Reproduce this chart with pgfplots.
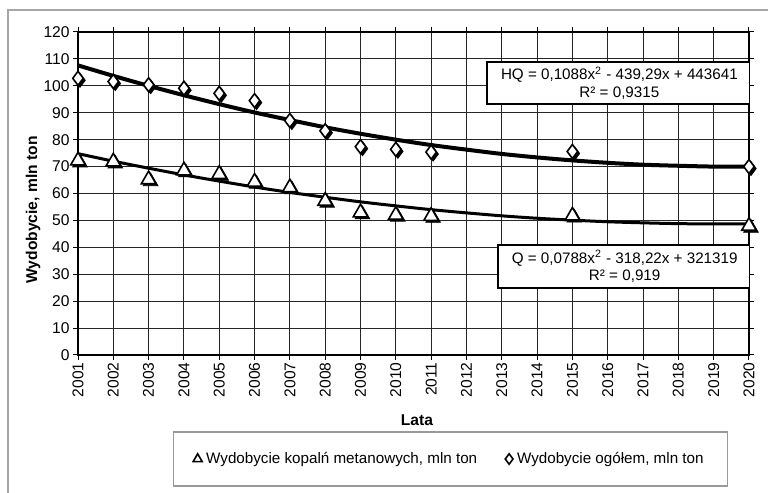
\documentclass[border=0pt]{standalone}
\usepackage{fontspec}
\setmainfont{Liberation Sans}
\usepackage{pgfplots}
\pgfplotsset{compat=1.18}
\begin{document}
\begin{tikzpicture}
\useasboundingbox (0,0) rectangle (384pt,246.5pt);
\draw[gray!70, line width=0.7pt] (4pt,0) -- (4pt,241.5pt) -- (384pt,241.5pt);
\begin{axis}[
  at={(39pt,69pt)}, anchor=south west,
  scale only axis, width=335.5pt, height=161.5pt,
  xmin=0, xmax=19, ymin=0, ymax=120,
  xtick={0,...,19},
  xticklabels={2001,2002,2003,2004,2005,2006,2007,2008,2009,2010,2011,2012,2013,2014,2015,2016,2017,2018,2019,2020},
  ytick={0,10,...,120},
  /pgf/number format/assume math mode=true,
  tick label style={font=\fontsize{7.8}{9}\selectfont},
  x tick label style={rotate=90, anchor=east, inner sep=1pt},
  y tick label style={inner sep=1.5pt},
  tick align=outside, major tick length=2.5pt,
  tick style={black, line width=0.5pt},
  grid=major, major grid style={black!85, line width=0.5pt},
  axis line style={black, line width=0.6pt},
  legend columns=2,
  legend style={at={(0.555,-0.322)}, anchor=center, draw=gray!80, line width=0.6pt,
    font=\fontsize{7.6}{9}\selectfont, inner xsep=10pt, inner ysep=8pt,
    /tikz/every even column/.append style={column sep=12pt}},
  legend cell align=left,
]
% shadows
\addplot[only marks, mark=diamond*, mark size=3.5pt, mark options={fill=black, draw=black, xshift=1pt, yshift=-1pt}, forget plot]
  coordinates {(0,102.8)(1,101.6)(2,100.4)(3,99.1)(4,97.2)(5,94.5)(6,87.1)(7,83.3)(8,77.4)(9,76.4)(10,75.4)(14,75.6)(19,70.0)};
\addplot[only marks, mark=triangle*, mark size=4.2pt, mark options={fill=black, draw=black, xshift=1pt, yshift=-1pt}, forget plot]
  coordinates {(0,72.2)(1,71.8)(2,65.2)(3,68.5)(4,67.2)(5,64.3)(6,62.2)(7,57.2)(8,52.9)(9,52.0)(10,51.6)(14,51.7)(19,47.9)};
% trend lines
\addplot[black, line width=2pt, smooth, forget plot] coordinates {
(0,107.6)(1,103.7)(2,100.0)(3,96.5)(4,93.2)(5,90.1)(6,87.3)(7,84.6)(8,82.2)(9,80.0)
(10,78.0)(11,76.3)(12,74.7)(13,73.4)(14,72.3)(15,71.4)(16,70.7)(17,70.3)(18,70.0)(19,70.0)};
\addplot[black, line width=1.5pt, smooth, forget plot] coordinates {
(0,74.8)(1,72.0)(2,69.4)(3,66.9)(4,64.6)(5,62.4)(6,60.4)(7,58.6)(8,56.9)(9,55.4)
(10,54.0)(11,52.8)(12,51.7)(13,50.8)(14,50.1)(15,49.5)(16,49.1)(17,48.8)(18,48.7)(19,48.75)};
% markers
\addplot[only marks, mark=triangle*, mark size=4.2pt, mark options={fill=white, draw=black, line width=0.8pt},
  legend image code/.code={\draw[gray, line width=0.4pt] plot[mark=triangle, mark size=2.6pt] coordinates {(0pt,0pt)};}]
  coordinates {(0,72.2)(1,71.8)(2,65.2)(3,68.5)(4,67.2)(5,64.3)(6,62.2)(7,57.2)(8,52.9)(9,52.0)(10,51.6)(14,51.7)(19,47.9)};
\addlegendentry{Wydobycie kopalń metanowych, mln ton}
\addplot[only marks, mark=diamond*, mark size=3.5pt, mark options={fill=white, draw=black, line width=0.8pt},
  legend image code/.code={\draw[gray, line width=0.4pt] plot[mark=diamond, mark size=2.6pt] coordinates {(0pt,0pt)};}]
  coordinates {(0,102.8)(1,101.6)(2,100.4)(3,99.1)(4,97.2)(5,94.5)(6,87.1)(7,83.3)(8,77.4)(9,76.4)(10,75.4)(14,75.6)(19,70.0)};
\addlegendentry{Wydobycie ogółem, mln ton}
\node[draw=black, line width=1.1pt, fill=white, align=center, font=\fontsize{7.6}{8.6}\selectfont,
  minimum width=132pt, minimum height=21pt, inner sep=1pt] at (axis cs:15.33,101.1)
  {HQ = 0,1088x\textsuperscript{2} - 439,29x + 443641\\R² = 0,9315};
\node[draw=black, line width=1.1pt, fill=white, align=center, font=\fontsize{7.6}{8.6}\selectfont,
  minimum width=126.5pt, minimum height=21.5pt, inner sep=1pt] at (axis cs:15.48,32.9)
  {Q = 0,0788x\textsuperscript{2} - 318,22x + 321319\\R² = 0,919};
\end{axis}
\node[font=\bfseries\fontsize{7.8}{9}\selectfont] at (208.5pt,36.5pt) {Lata};
\node[font=\bfseries\fontsize{7.8}{9}\selectfont, rotate=90] at (16.5pt,141.5pt) {Wydobycie, mln ton};
\end{tikzpicture}
\end{document}
